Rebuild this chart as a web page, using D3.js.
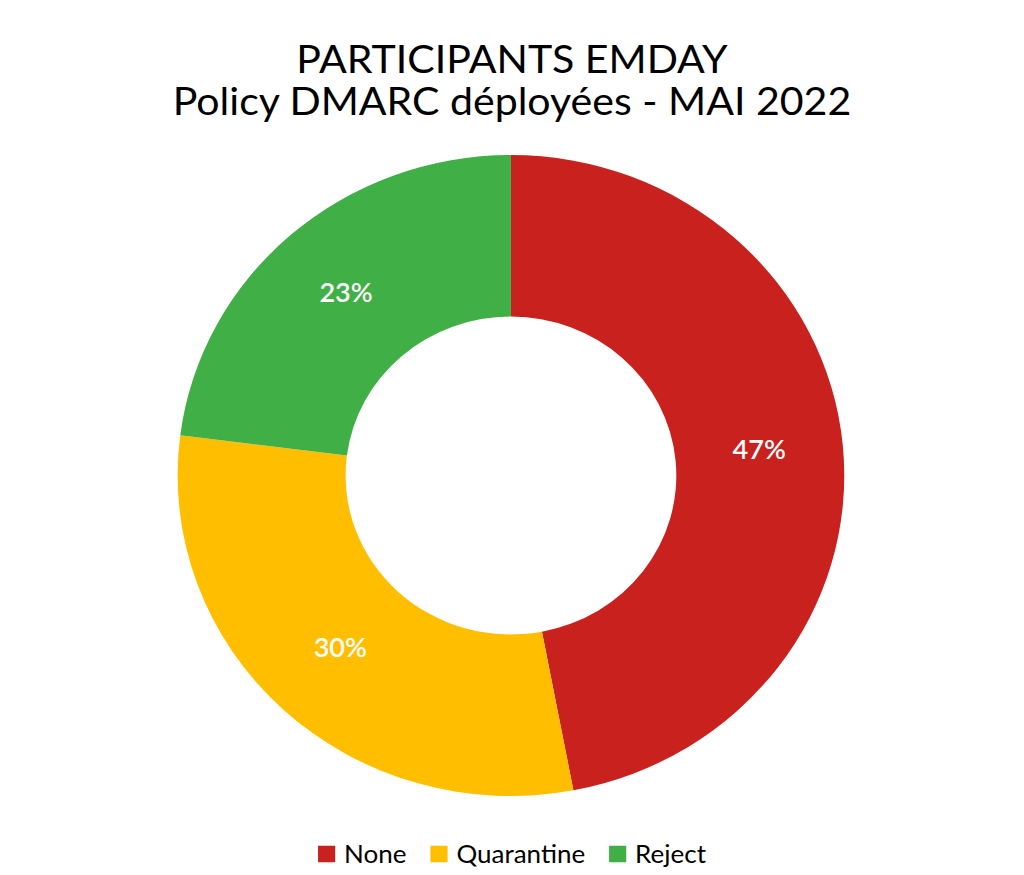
<!DOCTYPE html>
<html>
<head>
<meta charset="utf-8">
<script src="https://cdn.jsdelivr.net/npm/d3@7/dist/d3.min.js"></script>
<style>
  html, body { margin: 0; padding: 0; background: #ffffff; }
  svg { display: block; }
  text { font-family: Lato, "Noto Sans", sans-serif; }
</style>
</head>
<body>
<svg id="chart" width="1024" height="875"></svg>
<script>
const categories = ["None", "Quarantine", "Reject"];
const values = [47, 30, 23];
const colors = ["#C9211E", "#FFBF00", "#3FAF46"];
const titleLines = ["PARTICIPANTS EMDAY", "Policy DMARC déployées - MAI 2022"];

const svg = d3.select("#chart");
const W = 1024;
const sx = 1.04;
const root = svg.append("g")
  .attr("transform", `translate(${W / 2},0) scale(${sx},1) translate(${-W / 2},0)`);

// Title (single text element, two lines)
const title = root.append("text")
  .attr("text-anchor", "middle")
  .attr("font-size", 39.5)
  .attr("fill", "#000");
title.selectAll("tspan").data(titleLines).join("tspan")
  .attr("x", W / 2)
  .attr("y", (d, i) => 73 + i * 42)
  .text(d => d);

// Donut
const cx = 511, cy = 475.5, rOuter = 320.5, rInner = 159;
const total = d3.sum(values);
const pie = d3.pie().sort(null).value(d => d.v);
const arcs = pie(categories.map((c, i) => ({ c, v: values[i], col: colors[i] })));
const arc = d3.arc().innerRadius(rInner).outerRadius(rOuter);
const labelArc = d3.arc().innerRadius((rInner + rOuter) / 2).outerRadius((rInner + rOuter) / 2);

const g = root.append("g").attr("transform", `translate(${cx},${cy})`);
g.selectAll("path").data(arcs).join("path")
  .attr("d", arc)
  .attr("fill", d => d.data.col);

g.selectAll("text.lbl").data(arcs).join("text")
  .attr("class", "lbl")
  .attr("x", d => labelArc.centroid(d)[0])
  .attr("y", d => labelArc.centroid(d)[1])
  .attr("dy", "0.25em")
  .attr("text-anchor", "middle")
  .attr("font-size", 26)
  .attr("font-weight", 600)
  .attr("fill", "#ffffff")
  .text(d => Math.round(d.data.v / total * 100) + "%");

// Legend
const legend = root.append("g");
const sq = 16.5, gapText = 8.5, gapItem = 23, fs = 25;
const items = legend.selectAll("g").data(categories).join("g");
items.append("rect")
  .attr("width", sq).attr("height", sq)
  .attr("y", -sq / 2)
  .attr("fill", (d, i) => colors[i]);
items.append("text")
  .attr("x", sq + gapText)
  .attr("dy", "0.35em")
  .attr("font-size", fs)
  .attr("fill", "#000")
  .text(d => d);
let xpos = 0;
items.each(function () {
  const w = this.getBBox().width;
  d3.select(this).attr("transform", `translate(${xpos},0)`);
  xpos += w + gapItem;
});
const totalW = xpos - gapItem;
legend.attr("transform", `translate(${W / 2 - totalW / 2},854)`);
</script>
</body>
</html>
